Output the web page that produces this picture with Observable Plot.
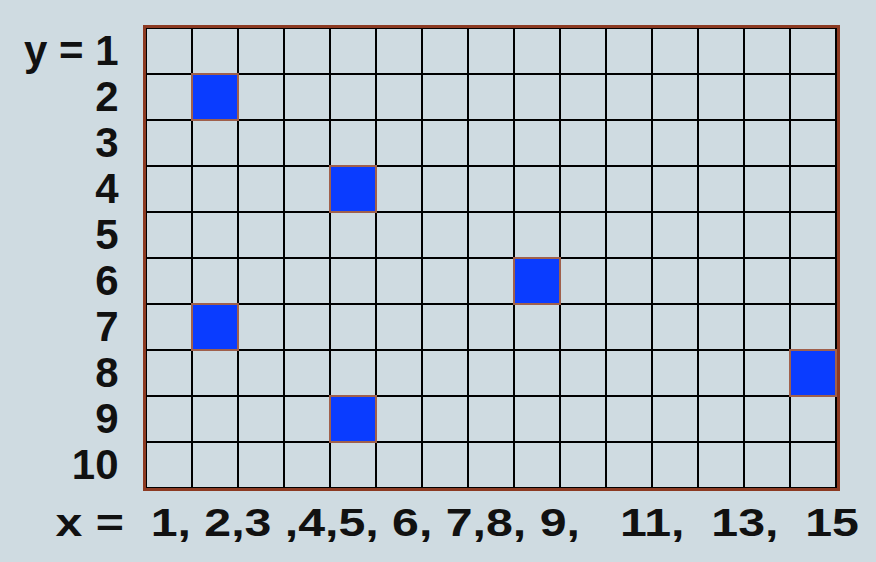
<!DOCTYPE html>
<html>
<head>
<meta charset="utf-8">
<script src="https://cdn.jsdelivr.net/npm/d3@7"></script>
<script src="https://cdn.jsdelivr.net/npm/@observablehq/plot@0.6"></script>
<style>
  html, body { margin: 0; padding: 0; background: #cfdbe1; }
  #chart svg text { white-space: pre; }
</style>
</head>
<body>
<div id="chart"></div>
<script>
// Grid dimensions
const cols = [1, 2, 3, 4, 5, 6, 7, 8, 9, 10, 11, 12, 13, 14, 15];
const rows = [1, 2, 3, 4, 5, 6, 7, 8, 9, 10];
// Filled squares (column, row)
const pointsX = [2, 5, 9, 2, 15, 5];
const pointsY = [2, 4, 6, 7, 8, 9];
// Labels
const yLabels = ["y = 1", "2", "3", "4", "5", "6", "7", "8", "9", "10"];
const xLabel = "x =  1, 2,3 ,4,5, 6, 7,8, 9,   11,  13,  15";

const gridCells = rows.flatMap(r => cols.map(c => ({x: c, y: r})));
const filled = pointsX.map((x, i) => ({x, y: pointsY[i]}));

const chart = Plot.plot({
  width: 876,
  height: 562,
  marginLeft: 144,
  marginRight: 38,
  marginTop: 26,
  marginBottom: 73,
  style: {background: "#cfdbe1", fontFamily: "'Liberation Sans', Arial, sans-serif", color: "#111"},
  x: {type: "band", domain: cols, padding: 0, axis: null},
  y: {type: "band", domain: rows, padding: 0, axis: null},
  marks: [
    Plot.cell(gridCells, {x: "x", y: "y", fill: "none", stroke: "#000", strokeWidth: 2}),
    Plot.cell(filled, {x: "x", y: "y", fill: "#0a3cff", stroke: "#a0604c", strokeWidth: 2}),
    Plot.frame({stroke: "#8c3a22", strokeWidth: 3}),
    Plot.axisY({
      tickSize: 0,
      tickPadding: 26,
      tickFormat: d => yLabels[d - 1],
      fontSize: 42,
      fontWeight: "bold",
      label: null
    }),
    Plot.text([xLabel], {
      text: d => d,
      frameAnchor: "bottom-left",
      textAnchor: "start",
      lineAnchor: "middle",
      dx: -89,
      dy: 34,
      fontSize: 38,
      fontWeight: "bold",
      fill: "#111"
    })
  ]
});
document.getElementById("chart").appendChild(chart);
// stretch the x label horizontally like the reference lettering
d3.select(chart).selectAll("text")
  .filter(function () { return this.textContent === xLabel; })
  .each(function () {
    const t = this.getAttribute("transform") || "";
    this.setAttribute("transform", (t + " scale(1.27,1)").trim());
  });
</script>
</body>
</html>
